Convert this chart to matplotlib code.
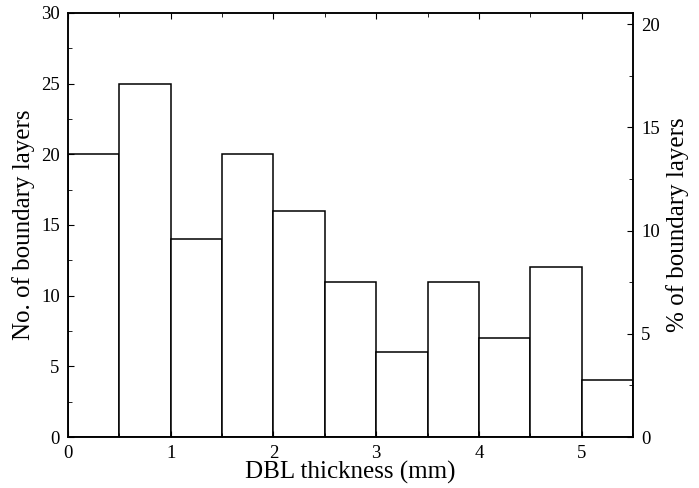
import numpy as np
import matplotlib.pyplot as plt
from matplotlib.ticker import MultipleLocator

plt.rcParams['font.family'] = ['Liberation Serif', 'DejaVu Serif']

# === Dados ===
bin_left = [0.0, 0.5, 1.0, 1.5, 2.0, 2.5, 3.0, 3.5, 4.0, 4.5, 5.0]
counts = [20, 25, 14, 20, 16, 11, 6, 11, 7, 12, 4]
bin_width = 0.5
total = sum(counts)

fig = plt.figure(figsize=(6.99, 4.88), dpi=100)
ax = fig.add_axes([0.0973, 0.1045, 0.8083, 0.8689])

ax.bar(bin_left, counts, width=bin_width, align='edge',
       facecolor='white', edgecolor='black', linewidth=1.1)

ax.set_xlim(0, 5.5)
ax.set_ylim(0, 30)
ax.xaxis.set_major_locator(MultipleLocator(1))
ax.xaxis.set_minor_locator(MultipleLocator(0.5))
ax.yaxis.set_major_locator(MultipleLocator(5))
ax.yaxis.set_minor_locator(MultipleLocator(2.5))
ax.tick_params(which='both', direction='in', top=True, labelsize=13.5)
ax.tick_params(which='major', length=4, pad=6)
ax.tick_params(which='minor', length=3)
ax.set_xlabel("DBL thickness (mm)", fontsize=18, labelpad=-1)
ax.set_ylabel("No. of boundary layers", fontsize=18, labelpad=4)

# eixo da direita em porcentagem
ax2 = ax.twinx()
ax2.set_ylim(0, 30 * 100 / total)
ax2.yaxis.set_major_locator(MultipleLocator(5))
ax2.yaxis.set_minor_locator(MultipleLocator(2.5))
ax2.tick_params(which='both', direction='in', labelsize=13.5)
ax2.tick_params(which='major', length=4, pad=6)
ax2.tick_params(which='minor', length=3)
ax2.set_ylabel("% of boundary layers", fontsize=18, labelpad=4)

for a in (ax, ax2):
    for s in a.spines.values():
        s.set_linewidth(1.1)

fig.savefig("out.png", dpi=100)
